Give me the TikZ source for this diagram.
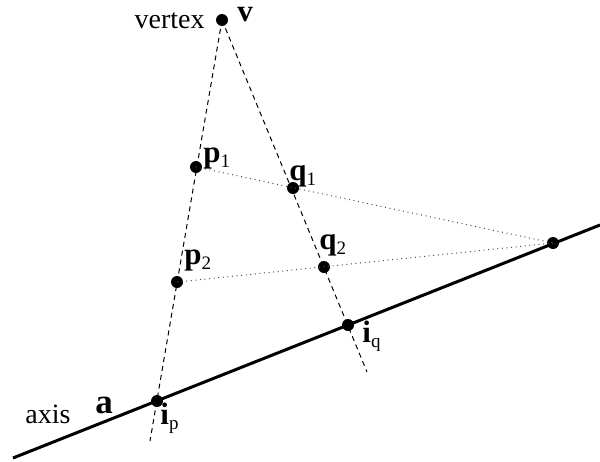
\documentclass[tikz,border=0pt]{standalone}
\usepackage{fontspec}
\setmainfont{Liberation Serif}
\newcommand{\sublbl}[2]{\textbf{#1}\raisebox{-2.6pt}{\fontsize{9.5}{10}\selectfont #2}}
\begin{document}
\begin{tikzpicture}[x=0.5pt,y=-0.5pt,
  pt/.style={circle,fill=black,inner sep=0pt,minimum size=6pt},
  lbl/.style={anchor=base west,inner sep=0pt,font=\fontsize{15.5}{17}\selectfont},
  axisline/.style={line width=1.5pt},
  guide/.style={line width=0.5pt,dash pattern=on 2.5pt off 2pt},
  dotline/.style={line width=0.5pt,dash pattern=on 0.5pt off 1.8pt,black!70}]
\useasboundingbox (0,0) rectangle (600,461);
% points
\coordinate (axL) at (13,458);
\coordinate (axR) at (600,225);
\coordinate (vendp) at (150,441);
\coordinate (vendq) at (367,372);
\node[pt] (v) at (222,20) {};
\node[pt] (p1) at (196,167) {};
\node[pt] (q1) at (293,188) {};
\node[pt] (p2) at (177,282) {};
\node[pt] (q2) at (324,267) {};
\node[pt] (iq) at (348,325) {};
\node[pt] (ip) at (157,401) {};
\node[pt] (f) at (553,243) {};
% lines
\draw[axisline] (axL) -- (axR);
\draw[guide] (v.center) -- (vendp);
\draw[guide] (v.center) -- (vendq);
\draw[dotline] (p1.center) -- (f.center);
\draw[dotline] (p2.center) -- (f.center);
% labels
\node[lbl,anchor=base east,font=\fontsize{14}{16}\selectfont] (tvertex) at (205,28) {vertex};
\node[lbl] (tv) at (237,21) {\textbf{v}};
\node[lbl] (tp1) at (203,162) {\sublbl{p}{1}};
\node[lbl] (tq1) at (289,180) {\sublbl{q}{1}};
\node[lbl] (tp2) at (184,264) {\sublbl{p}{2}};
\node[lbl] (tq2) at (319,249) {\sublbl{q}{2}};
\node[lbl] (tiq) at (362,342) {\sublbl{i}{q}};
\node[lbl] (tip) at (160,424) {\sublbl{i}{p}};
\node[lbl,font=\fontsize{17.5}{19}\selectfont] (ta) at (95,413) {\textbf{a}};
\node[lbl,font=\fontsize{14}{16}\selectfont] (taxis) at (25,423) {axis};
\end{tikzpicture}
\end{document}
